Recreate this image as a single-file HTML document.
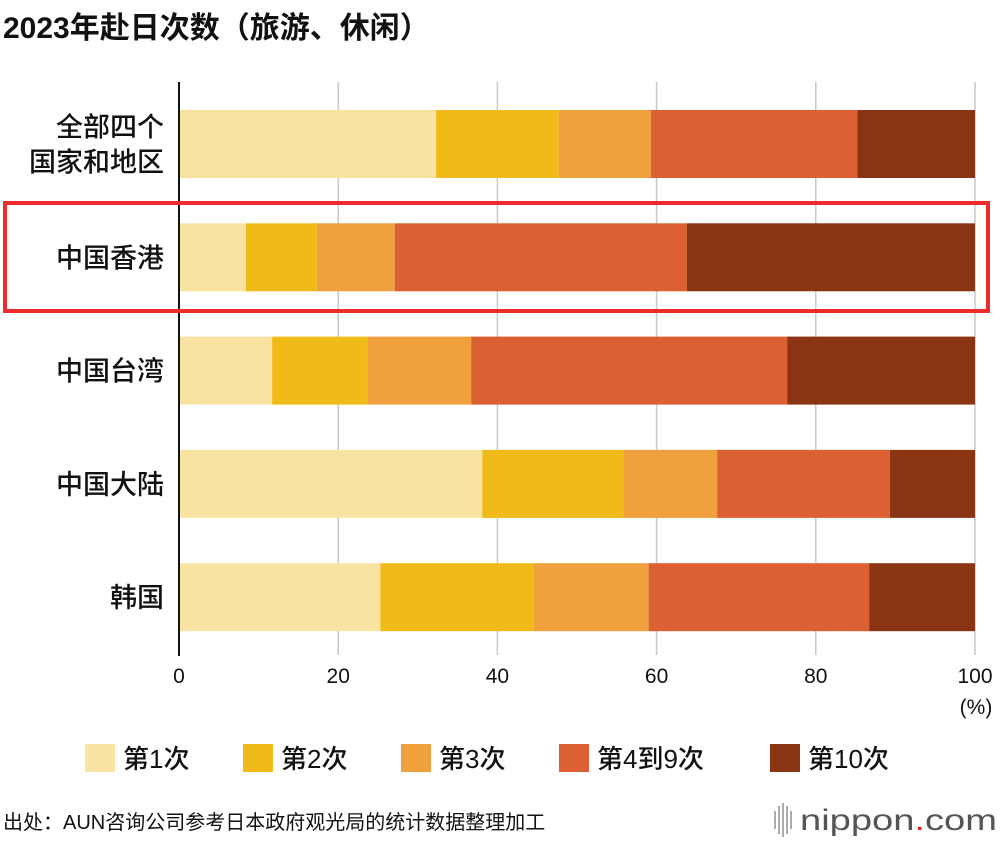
<!DOCTYPE html>
<html><head><meta charset="utf-8">
<style>
body{margin:0;background:#fff;font-family:"Liberation Sans","Noto Sans CJK SC",sans-serif;}
svg text{font-family:"Liberation Sans","Noto Sans CJK SC",sans-serif;fill:#111;}
</style></head>
<body>
<svg id="c" width="1000" height="842" viewBox="0 0 1000 842">
<text x="3" y="38" font-size="30" font-weight="bold">2023年赴日次数（旅游、休闲）</text>
<g id="grid"></g>
<g id="bars"></g>
<g id="labels"></g>
<rect x="5" y="203" width="983" height="108" fill="none" stroke="#ee2a2a" stroke-width="4"/>
<g id="legend"></g>
<text x="3" y="829" font-size="20">出处：AUN咨询公司参考日本政府观光局的统计数据整理加工</text>
<g>
<g fill="#aaa"><rect x="774" y="811" width="2" height="18"/><rect x="778" y="806" width="2" height="28"/><rect x="782" y="803" width="2" height="34"/><rect x="786" y="806" width="2" height="28"/><rect x="790" y="811" width="2" height="18"/></g>
<text x="800" y="830" font-size="30" textLength="197" lengthAdjust="spacingAndGlyphs" style="fill:#555">nippon<tspan style="fill:#e0262a">.</tspan>com</text>
</g>
</svg>
<script>
const categories=[["全部四个","国家和地区"],["中国香港"],["中国台湾"],["中国大陆"],["韩国"]];
const s1=[32.3,8.4,11.7,38.1,25.3];
const s2=[15.4,8.9,12.0,17.7,19.2];
const s3=[11.6,9.8,13.0,11.8,14.5];
const s4=[25.9,36.7,39.7,21.7,27.7];
const s5=[14.8,36.2,23.6,10.7,13.3];
const seriesNames=["第1次","第2次","第3次","第4到9次","第10次"];
const colors=["#f8e3a3","#f0bb18","#f0a03c","#dc6034","#8b3414"];
const ticks=[0,20,40,60,80,100];
const NS="http://www.w3.org/2000/svg";
const x0=179,x1=975;
const xs=v=>x0+(x1-x0)*v/100;
const yRow=i=>110+i*113.3;
const bh=68;
function mk(t,a,p){const e=document.createElementNS(NS,t);for(const k in a)e.setAttribute(k,a[k]);p.appendChild(e);return e;}
const grid=document.getElementById('grid');
ticks.forEach(t=>{
  if(t>0){const l=mk('line',{x1:xs(t),x2:xs(t),y1:82,y2:655,stroke:'#c8c8c8','stroke-width':1.5},grid);
  
  }
  const tx=mk('text',{x:xs(t),y:683,'font-size':21,'text-anchor':'middle'},grid);
  tx.textContent=t;
  
  
});
const pc=mk('text',{x:976,y:714,'font-size':21,'text-anchor':'middle'},grid);pc.textContent='(%)';


const series=[s1,s2,s3,s4,s5];
const bars=document.getElementById('bars');
categories.forEach((c,i)=>{
  let acc=0;
  series.forEach((s,j)=>{
    const r=mk('rect',{x:xs(acc),y:yRow(i),width:xs(acc+s[i])-xs(acc),height:bh,fill:colors[j]},bars);
    
    
    acc+=s[i];
  });
  const lab=document.getElementById('labels');
  const cy=yRow(i)+bh/2;
  c.forEach((line,k)=>{
    const t=mk('text',{x:164,y:cy+10+(k-(c.length-1)/2)*35,'font-size':27,'font-weight':500,'text-anchor':'end'},lab);
    t.textContent=line;
    
    
  });
});
const ax=mk('line',{x1:x0,x2:x0,y1:82,y2:656,stroke:'#111','stroke-width':2},bars);


const lg=document.getElementById('legend');
const lx=[85,243,401,559,770];
seriesNames.forEach((n,j)=>{
  const g=mk('g',{},lg);
  
  
  mk('rect',{x:lx[j],y:744,width:30,height:28,fill:colors[j]},g);
  const t=mk('text',{x:lx[j]+38,y:768,'font-size':26,'font-weight':500},g);t.textContent=n;
});
</script>
</body></html>
